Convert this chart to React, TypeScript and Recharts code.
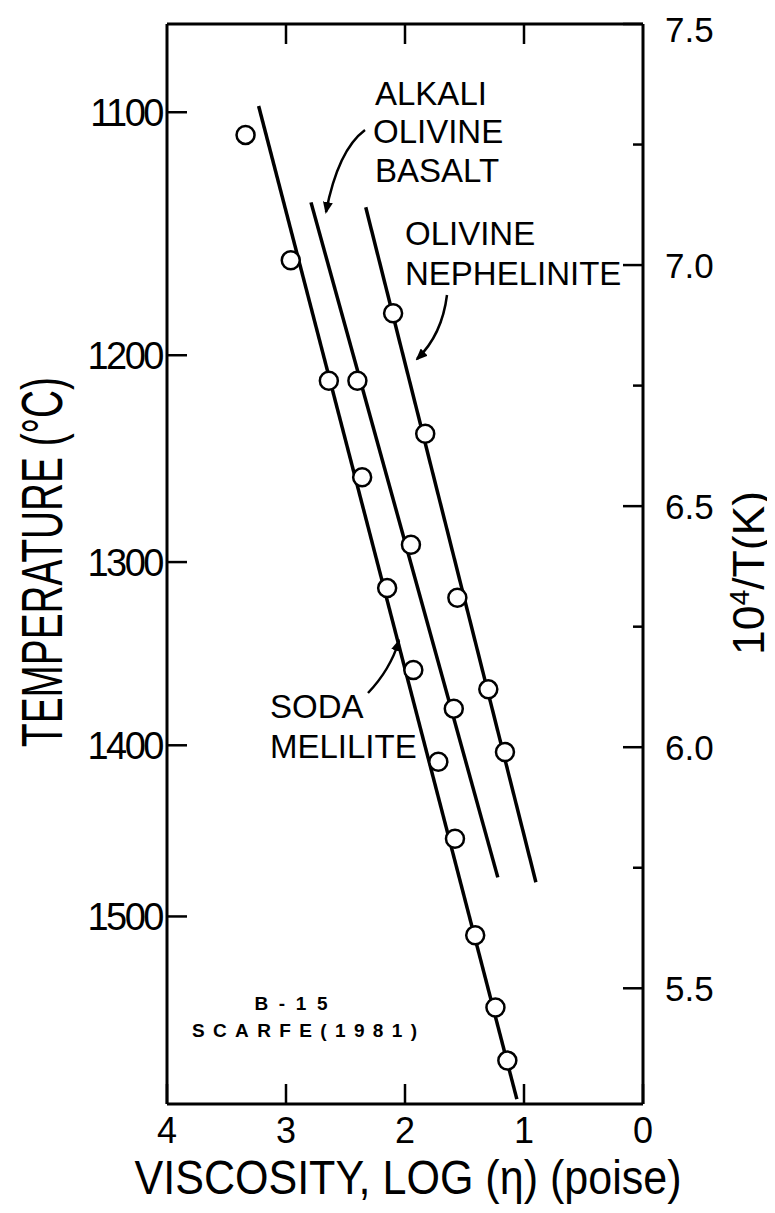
import { ComposedChart, Scatter, XAxis, YAxis, Customized } from "recharts"

const FONT = "'Liberation Sans', Arial, sans-serif"

// viscosity log(eta) vs 10^4/T(K)
const sodaLogEta = [3.34, 2.96, 2.64, 2.36, 2.15, 1.93, 1.72, 1.58, 1.41, 1.24, 1.14]
const sodaInvT = [7.27, 7.01, 6.76, 6.56, 6.33, 6.16, 5.97, 5.81, 5.61, 5.46, 5.35]

const basaltLogEta = [2.4, 1.95, 1.59]
const basaltInvT = [6.76, 6.42, 6.08]

const nephLogEta = [2.1, 1.83, 1.56, 1.3, 1.16]
const nephInvT = [6.9, 6.65, 6.31, 6.12, 5.99]

// drawn fit lines (end points)
const sodaFitLogEta = [3.23, 1.06]
const sodaFitInvT = [7.33, 5.27]
const basaltFitLogEta = [2.79, 1.22]
const basaltFitInvT = [7.13, 5.73]
const nephFitLogEta = [2.33, 0.9]
const nephFitInvT = [7.12, 5.72]

// axes
const viscTicks = [0, 1, 2, 3, 4]
const topTicks = [1, 2, 3]
const invTTicks = [5.5, 5.75, 6, 6.25, 6.5, 6.75, 7, 7.25, 7.5]
const invTMajor = [5.5, 6, 6.5, 7, 7.5]
const tempLabels = [1100, 1200, 1300, 1400, 1500]
const tempTickPos = [7.317, 6.813, 6.384, 6.004, 5.649]

const toPoints = (xs: number[], ys: number[]) => xs.map((x, i) => ({ x, y: ys[i] }))

const xDomain = [0, 4]
const yDomain = [5.26, 7.5]

// frame of the plot inside the svg
const W = 767
const H = 1197
const LEFT = 159
const RIGHT = 635
const TOP = 16
const BOTTOM = 1096

// all ticks point into the plot, so they are drawn by hand
const RightTick = (props: any) => {
  const { y, payload } = props
  const major = invTMajor.includes(payload.value)
  return (
    <g>
      <line x1={RIGHT} x2={RIGHT - (major ? 20 : 10)} y1={y} y2={y} stroke="#000" strokeWidth={2.5} />
      {major && (
        <text x={RIGHT + 22} y={Math.max(y, 21)} dy="0.36em" fontSize={35} fontFamily={FONT} fill="#000">
          {payload.value.toFixed(1)}
        </text>
      )}
    </g>
  )
}

const LeftTick = (props: any) => {
  const { y, payload } = props
  return (
    <g>
      <line x1={LEFT} x2={LEFT + 20} y1={y} y2={y} stroke="#000" strokeWidth={2.5} />
      <text x={LEFT - 5} y={y} dy="0.36em" textAnchor="end" fontSize={38} letterSpacing={-2.5} fontFamily={FONT} fill="#000">
        {tempLabels[tempTickPos.indexOf(payload.value)]}
      </text>
    </g>
  )
}

// bottom ticks also mark the same positions on the top edge of the frame
const BottomTick = (props: any) => {
  const { x, payload } = props
  return (
    <g>
      <line x1={x} x2={x} y1={BOTTOM} y2={BOTTOM - 20} stroke="#000" strokeWidth={2.5} />
      {topTicks.includes(payload.value) && (
        <line x1={x} x2={x} y1={TOP} y2={TOP + 20} stroke="#000" strokeWidth={2.5} />
      )}
      <text x={x} y={BOTTOM + 13} dy="0.71em" textAnchor="middle" fontSize={36} fontFamily={FONT} fill="#000">
        {payload.value}
      </text>
    </g>
  )
}

const Dot = (props: any) => (
  <circle cx={props.cx} cy={props.cy} r={9} fill="#fff" stroke="#000" strokeWidth={2.5} />
)

const Annotations = () => (
  <g fontFamily={FONT} fill="#000">
    <defs>
      <marker id="head" viewBox="0 0 12 10" refX="10" refY="5" markerWidth="12" markerHeight="10" markerUnits="userSpaceOnUse" orient="auto">
        <path d="M0,0 L12,5 L0,10 z" fill="#000" />
      </marker>
    </defs>
    <g fontSize={33}>
      <text x={367} y={97}>ALKALI</text>
      <text x={365} y={135}>OLIVINE</text>
      <text x={367} y={174}>BASALT</text>
      <text x={397} y={237}>OLIVINE</text>
      <text x={397} y={277}>NEPHELINITE</text>
      <text x={262} y={710}>SODA</text>
      <text x={262} y={750}>MELILITE</text>
    </g>
    <path d="M357,122 Q330,142 318,204" fill="none" stroke="#000" strokeWidth={2.5} markerEnd="url(#head)" />
    <path d="M439,287 Q434,327 409,351" fill="none" stroke="#000" strokeWidth={2.5} markerEnd="url(#head)" />
    <path d="M360,685 Q382,662 391,633" fill="none" stroke="#000" strokeWidth={2.5} markerEnd="url(#head)" />
    <g fontWeight="bold" fontSize={19}>
      <text x={283} y={1002} textAnchor="middle" textLength={73} lengthAdjust="spacing">B-15</text>
      <text x={184} y={1029} textLength={225} lengthAdjust="spacing">SCARFE(1981)</text>
    </g>
    <text x={54} y={554} fontSize={58} textAnchor="middle" textLength={370} lengthAdjust="spacingAndGlyphs" transform="rotate(-90, 54, 554)">
      TEMPERATURE (°C)
    </text>
    <text x={400} y={1186} fontSize={48} textAnchor="middle" textLength={547} lengthAdjust="spacingAndGlyphs">
      VISCOSITY, LOG (η) (poise)
    </text>
    <text x={756} y={565} fontSize={44} textAnchor="middle" textLength={164} lengthAdjust="spacingAndGlyphs" transform="rotate(-90, 756, 565)">
      10<tspan dy={-15} fontSize={28}>4</tspan><tspan dy={15}>/T(K)</tspan>
    </text>
  </g>
)

export default function App() {
  const axisLine = { stroke: "#000", strokeWidth: 3 }
  return (
    <ComposedChart width={W} height={H} margin={{ top: 0, right: 0, bottom: 0, left: 0 }}>
      <XAxis
        type="number"
        dataKey="x"
        domain={xDomain}
        allowDataOverflow
        reversed
        ticks={viscTicks}
        interval={0}
        height={H - BOTTOM}
        axisLine={axisLine}
        tickLine={false}
        tick={BottomTick}
      />
      <XAxis
        xAxisId="top"
        orientation="top"
        type="number"
        dataKey="x"
        domain={xDomain}
        allowDataOverflow
        reversed
        height={TOP}
        axisLine={axisLine}
        tickLine={false}
        tick={false}
      />
      <YAxis
        yAxisId="left"
        type="number"
        dataKey="y"
        domain={yDomain}
        allowDataOverflow
        ticks={tempTickPos}
        interval={0}
        width={LEFT}
        axisLine={axisLine}
        tickLine={false}
        tick={LeftTick}
      />
      <YAxis
        yAxisId="right"
        orientation="right"
        type="number"
        dataKey="y"
        domain={yDomain}
        allowDataOverflow
        ticks={invTTicks}
        interval={0}
        width={W - RIGHT}
        axisLine={axisLine}
        tickLine={false}
        tick={RightTick}
      />
      <Scatter yAxisId="right" data={toPoints(sodaFitLogEta, sodaFitInvT)} line={{ stroke: "#000", strokeWidth: 3.5 }} shape={() => <g />} isAnimationActive={false} />
      <Scatter yAxisId="right" data={toPoints(basaltFitLogEta, basaltFitInvT)} line={{ stroke: "#000", strokeWidth: 3.5 }} shape={() => <g />} isAnimationActive={false} />
      <Scatter yAxisId="right" data={toPoints(nephFitLogEta, nephFitInvT)} line={{ stroke: "#000", strokeWidth: 3.5 }} shape={() => <g />} isAnimationActive={false} />
      <Scatter yAxisId="right" data={toPoints(sodaLogEta, sodaInvT)} shape={Dot} isAnimationActive={false} />
      <Scatter yAxisId="right" data={toPoints(basaltLogEta, basaltInvT)} shape={Dot} isAnimationActive={false} />
      <Scatter yAxisId="right" data={toPoints(nephLogEta, nephInvT)} shape={Dot} isAnimationActive={false} />
      <Customized component={Annotations} />
    </ComposedChart>
  )
}
